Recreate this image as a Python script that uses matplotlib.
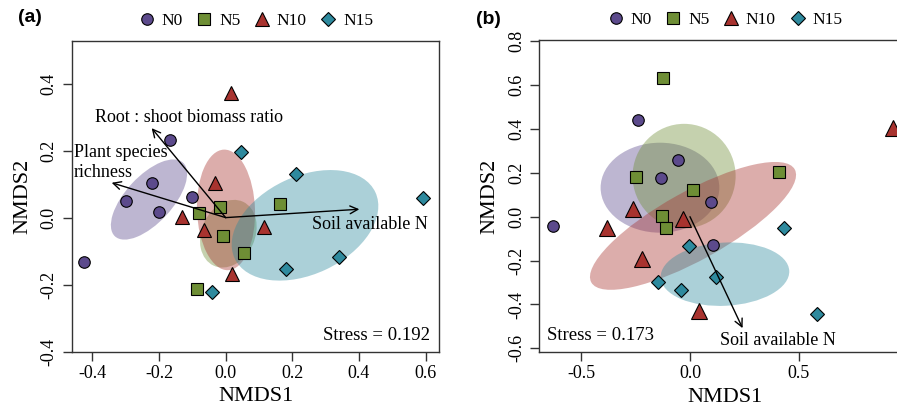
import matplotlib.pyplot as plt
import numpy as np
from matplotlib.patches import Ellipse
from matplotlib.lines import Line2D
from matplotlib.ticker import FormatStrFormatter

plt.rcParams['font.family'] = ['Liberation Serif', 'DejaVu Serif']

groups = ['N0', 'N5', 'N10', 'N15']
colors = ['#5c4a8c', '#6e8e35', '#a8332f', '#2e8a9e']
markers = ['o', 's', '^', 'D']

# ---- panel (a) NMDS scores ----
a_n0_x = [-0.167, -0.220, -0.299, -0.200, -0.100, -0.425]
a_n0_y = [0.232, 0.104, 0.051, 0.017, 0.061, -0.133]
a_n5_x = [-0.017, -0.080, -0.007, 0.054, 0.163, -0.087]
a_n5_y = [0.033, 0.014, -0.055, -0.106, 0.040, -0.213]
a_n10_x = [0.015, -0.032, -0.132, -0.065, 0.116, 0.020]
a_n10_y = [0.373, 0.103, 0.001, -0.037, -0.027, -0.169]
a_n15_x = [0.046, 0.211, 0.591, 0.340, 0.180, -0.040]
a_n15_y = [0.195, 0.130, 0.058, -0.118, -0.153, -0.223]

# ellipses (a): centre x, centre y, width, height, angle
a_ell_x = [-0.230, 0.008, 0.001, 0.238]
a_ell_y = [0.054, -0.048, 0.023, -0.023]
a_ell_w = [0.30, 0.21, 0.174, 0.466]
a_ell_h = [0.14, 0.16, 0.36, 0.292]
a_ell_ang = [47, 65, 2, 25]

# env vectors (a)
a_vec_names = ['Root : shoot biomass ratio', 'Plant species\nrichness', 'Soil available N']
a_vec_x = [-0.222, -0.342, 0.401]
a_vec_y = [0.267, 0.104, 0.025]

# ---- panel (b) NMDS scores ----
b_n0_x = [-0.238, -0.054, -0.133, 0.095, -0.632, 0.104]
b_n0_y = [0.441, 0.258, 0.178, 0.066, -0.041, -0.129]
b_n5_x = [-0.123, -0.250, 0.015, 0.411, -0.127, -0.110]
b_n5_y = [0.633, 0.182, 0.122, 0.205, 0.003, -0.053]
b_n10_x = [0.935, -0.264, -0.383, -0.031, -0.219, 0.043]
b_n10_y = [0.403, 0.034, -0.050, -0.010, -0.194, -0.428]
b_n15_x = [0.432, -0.003, 0.118, -0.149, -0.041, 0.583]
b_n15_y = [-0.053, -0.132, -0.273, -0.299, -0.334, -0.443]

b_ell_x = [-0.138, -0.027, 0.014, 0.161]
b_ell_y = [0.132, 0.185, -0.042, -0.262]
b_ell_w = [0.546, 0.474, 1.068, 0.592]
b_ell_h = [0.41, 0.476, 0.312, 0.288]
b_ell_ang = [0, 0, 28.8, 3]

b_vec_x = [0.242]
b_vec_y = [-0.508]

a_pts = [(a_n0_x, a_n0_y), (a_n5_x, a_n5_y), (a_n10_x, a_n10_y), (a_n15_x, a_n15_y)]
b_pts = [(b_n0_x, b_n0_y), (b_n5_x, b_n5_y), (b_n10_x, b_n10_y), (b_n15_x, b_n15_y)]

fig = plt.figure(figsize=(8.97, 4.11), dpi=100)
ax_a = fig.add_axes([72/897, 59/411, 367/897, 311/411])
ax_b = fig.add_axes([539.3/897, 58.7/411, 370.7/897, 312.3/411])


def draw_panel(ax, pts, ex, ey, ew, eh, ea, tri_size):
    for i in range(4):
        ax.add_patch(Ellipse((ex[i], ey[i]), ew[i], eh[i], angle=ea[i],
                             facecolor=colors[i], alpha=0.4, edgecolor='none', zorder=1))
    for i, (xs, ys) in enumerate(pts):
        ms = {'o': 8.3, 's': 8.0, '^': tri_size, 'D': 6.8}[markers[i]]
        ax.plot(xs, ys, linestyle='none', marker=markers[i], ms=ms,
                markerfacecolor=colors[i], markeredgecolor='black', mew=0.8, zorder=2)
    handles = [Line2D([], [], linestyle='none', marker=markers[i],
                      ms={'o': 8.3, 's': 8.0, '^': 9.6, 'D': 6.8}[markers[i]],
                      markerfacecolor=colors[i], markeredgecolor='black', mew=0.8)
               for i in range(4)]
    ax.legend(handles, groups, ncol=4, loc='lower center', bbox_to_anchor=(0.5, 1.0),
              frameon=False, fontsize=12.5, handletextpad=0.35, columnspacing=0.75,
              handlelength=1.0, borderaxespad=0.3)
    for s in ax.spines.values():
        s.set_linewidth(1.0)
        s.set_color('#333333')
    ax.tick_params(direction='out', length=6.3, width=1.0, color='#333333',
                   labelsize=13, pad=3)
    ax.tick_params(axis='y', labelrotation=90, pad=4)
    for lab in ax.get_yticklabels():
        lab.set_va('center')
    ax.yaxis.set_major_formatter(FormatStrFormatter('%.1f'))
    ax.xaxis.set_major_formatter(FormatStrFormatter('%.1f'))
    ax.set_xlabel('NMDS1', fontsize=16, labelpad=4)
    ax.set_ylabel('NMDS2', fontsize=16, labelpad=6)


draw_panel(ax_a, a_pts, a_ell_x, a_ell_y, a_ell_w, a_ell_h, a_ell_ang, 9.6)
draw_panel(ax_b, b_pts, b_ell_x, b_ell_y, b_ell_w, b_ell_h, b_ell_ang, 12.0)

arrow = dict(arrowstyle='->', lw=1.0, color='black', mutation_scale=14, shrinkA=0, shrinkB=0)
for vx, vy in zip(a_vec_x, a_vec_y):
    ax_a.annotate('', xy=(vx, vy), xytext=(0, 0), arrowprops=arrow, zorder=3)
ax_a.text(-0.110, 0.300, a_vec_names[0], fontsize=13, ha='center', va='center')
ax_a.text(-0.455, 0.165, a_vec_names[1], fontsize=13, ha='left', va='center', linespacing=1.2)
ax_a.text(0.433, -0.022, a_vec_names[2], fontsize=13, ha='center', va='center')
ax_a.text(0.613, -0.353, 'Stress = 0.192', fontsize=13.5, ha='right', va='center')

for vx, vy in zip(b_vec_x, b_vec_y):
    ax_b.annotate('', xy=(vx, vy), xytext=(0, 0), arrowprops=arrow, zorder=3)
ax_b.text(0.406, -0.566, 'Soil available N', fontsize=13, ha='center', va='center')
ax_b.text(-0.659, -0.543, 'Stress = 0.173', fontsize=13.5, ha='left', va='center')

ax_a.set_xlim(-0.461, 0.64)
ax_a.set_ylim(-0.401, 0.527)
ax_a.set_xticks(np.arange(-0.4, 0.61, 0.2))
ax_a.set_yticks(np.arange(-0.4, 0.41, 0.2))

ax_b.set_xlim(-0.693, 1.012)
ax_b.set_ylim(-0.618, 0.805)
ax_b.set_xticks([-0.5, 0.0, 0.5])
ax_b.set_yticks(np.arange(-0.6, 0.81, 0.2))

fig.text(18/897, 1 - 18/411, '(a)', family='Liberation Sans', fontweight='bold',
         fontsize=14, ha='left', va='center')
fig.text(476/897, 1 - 19/411, '(b)', family='Liberation Sans', fontweight='bold',
         fontsize=14, ha='left', va='center')

fig.savefig('out.png', dpi=100)
